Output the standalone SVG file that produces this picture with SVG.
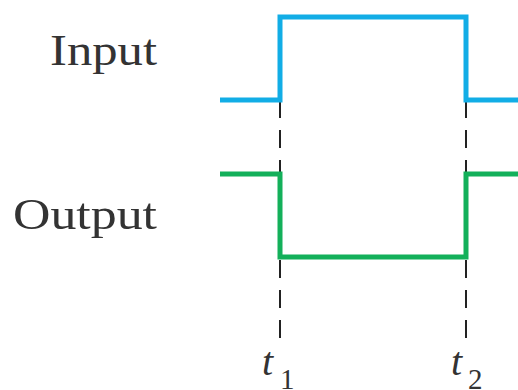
<svg xmlns="http://www.w3.org/2000/svg" width="518" height="390" viewBox="0 0 518 390">
<style>
.lbl{font-family:"Liberation Serif","Times New Roman",serif;fill:#333;}
.dash{stroke:#222;stroke-width:2;stroke-dasharray:18 12;fill:none;}
.sig{fill:none;stroke-width:5;stroke-linejoin:miter;}
</style>
<rect width="518" height="390" fill="#fff"/>
<g id="connectors">
<line class="dash" x1="280" y1="100" x2="280" y2="174"/>
<line class="dash" x1="466" y1="100" x2="466" y2="174"/>
<line class="dash" x1="280" y1="260" x2="280" y2="338"/>
<line class="dash" x1="466" y1="260" x2="466" y2="338"/>
</g>
<g id="input">
<polyline class="sig" stroke="#12ade6" points="220,100 280,100 280,17 466,17 466,100 518,100"/>
<text class="lbl" x="50" y="65" font-size="45" textLength="107" lengthAdjust="spacingAndGlyphs">Input</text>
</g>
<g id="output">
<polyline class="sig" stroke="#13b05a" points="220,174 280,174 280,257 466,257 466,174 518,174"/>
<text class="lbl" x="13" y="229" font-size="45" textLength="144" lengthAdjust="spacingAndGlyphs">Output</text>
</g>
<g id="t1">
<text class="lbl" x="262" y="375" font-size="40" font-style="italic">t</text>
<text class="lbl" x="280" y="389" font-size="29">1</text>
</g>
<g id="t2">
<text class="lbl" x="451" y="375" font-size="40" font-style="italic">t</text>
<text class="lbl" x="468" y="389" font-size="29">2</text>
</g>
</svg>
